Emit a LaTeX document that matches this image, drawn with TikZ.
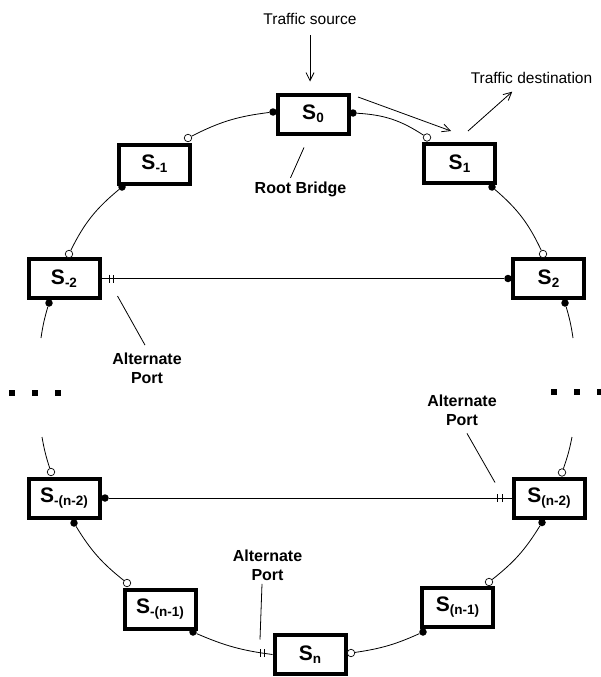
\documentclass[tikz,border=0pt]{standalone}
\usepackage{fontspec}
\setmainfont{Liberation Sans}
\usetikzlibrary{arrows.meta,calc}

\newcommand{\bsub}[1]{\raisebox{-3pt}{\fontsize{13.5}{13.5}\selectfont #1}}

\tikzset{
  bridge/.style={draw, line width=4pt, minimum width=71pt, minimum height=39pt,
    inner sep=0pt, font=\bfseries\fontsize{21}{21}\selectfont},
  fport/.style={circle, fill, inner sep=0pt, minimum size=7.5pt},
  oport/.style={circle, draw, fill=white, line width=0.7pt, inner sep=0pt, minimum size=7.5pt},
  link/.style={line width=0.8pt},
  blk/.style={font=\bfseries\fontsize{16}{19}\selectfont, align=center},
  txt/.style={font=\fontsize{15.5}{18}\selectfont},
  arr/.style={line width=0.8pt, -{Straight Barb[length=8pt,width=8pt]}},
}

\begin{document}
\begin{tikzpicture}[x=1pt,y=1pt]
\useasboundingbox (0,0) rectangle (600,-677);

% Bridges
\node[bridge] (s0)   at (313,-114)   {S\bsub{0}};
\node[bridge] (s1)   at (459.5,-163.5) {S\bsub{1}};
\node[bridge] (sm1)  at (154.5,-164) {S\bsub{-1}};
\node[bridge] (sm2)  at (64,-278.5)  {S\bsub{-2}};
\node[bridge] (s2)   at (548.5,-278.5) {S\bsub{2}};
\node[bridge] (smn2) at (64,-498)    {S\bsub{-(n-2)}};
\node[bridge] (sn2)  at (549,-498)   {S\bsub{(n-2)}};
\node[bridge] (smn1) at (160,-609)   {S\bsub{-(n-1)}};
\node[bridge] (sn1)  at (457.5,-607) {S\bsub{(n-1)}};
\node[bridge] (sn)   at (310,-654.5) {S\bsub{n}};

% Ports
\node[fport] (p0l)   at ($(s0)+(-40,2)$) {};
\node[fport] (p0r)   at ($(s0)+(40,1)$) {};
\node[oport] (p1o)   at ($(s1)+(-32.5,26)$) {};
\node[fport] (p1f)   at ($(s1)+(32.5,-23.5)$) {};
\node[oport] (pm1o)  at ($(sm1)+(33.5,26)$) {};
\node[fport] (pm1f)  at ($(sm1)+(-32.5,-23)$) {};
\node[oport] (pm2o)  at ($(sm2)+(5,24.5)$) {};
\node[fport] (pm2f)  at ($(sm2)+(-15,-24.5)$) {};
\node[oport] (p2o)   at ($(s2)+(-5.5,24.5)$) {};
\node[fport] (p2l)   at ($(s2)+(-40.5,0)$) {};
\node[fport] (p2f)   at ($(s2)+(16.5,-24.5)$) {};
\node[oport] (pmn2o) at ($(smn2)+(-13,26)$) {};
\node[fport] (pmn2r) at ($(smn2)+(41,0)$) {};
\node[fport] (pmn2f) at ($(smn2)+(10,-25)$) {};
\node[oport] (pn2o)  at ($(sn2)+(13,25.5)$) {};
\node[fport] (pn2f)  at ($(sn2)+(-7,-24.5)$) {};
\node[oport] (pmn1o) at ($(smn1)+(-33,26)$) {};
\node[fport] (pmn1f) at ($(smn1)+(33,-23)$) {};
\node[oport] (pn1o)  at ($(sn1)+(31.5,25)$) {};
\node[fport] (pn1f)  at ($(sn1)+(-34.5,-25)$) {};
\node[oport] (pno)   at ($(sn)+(41,1.5)$) {};

% Open ends of the ring
\coordinate (e1) at (41,-338);
\coordinate (e2) at (573,-338);
\coordinate (e3) at (42,-437);
\coordinate (e4) at (572,-437);

% Ring links
\draw[link] (p0l) to[bend right=10] (pm1o);
\draw[link] (p0r) to[bend left=15] (p1o);
\draw[link] (pm1f) to[bend right=12] (pm2o);
\draw[link] (p1f) to[bend left=12] (p2o);
\draw[link] (pm2f) to[bend right=4] (e1);
\draw[link] (p2f) to[bend left=4] (e2);
\draw[link] (e3) to[bend right=4] (pmn2o);
\draw[link] (e4) to[bend left=4] (pn2o);
\draw[link] (pmn2f) to[bend right=10] (pmn1o);
\draw[link] (pn2f) to[bend left=10] (pn1o);
\draw[link] (pmn1f) to[bend right=8] (sn.west);
\draw[link] (pn1f) to[bend left=8] (pno);

% Cross links
\draw[link] (sm2.east) -- (p2l);
\draw[link] (pmn2r) -- (sn2.west);

% Blocked ports
\draw[link] ($(sm2.east)+(8,4)$) -- ++(0,-8) ++(4,0) -- ++(0,8);
\draw[link] ($(sn2.west)+(-14,4)$) -- ++(0,-8) ++(4.5,0) -- ++(0,8);
\draw[link] ($(sn.west)+(-12,5.5)$) -- ++(0,-8) ++(4,0) -- ++(0,8);

% Labels
\node[txt, anchor=base] (src) at (310,-25) {Traffic source};
\node[txt, anchor=base] (dst) at (531.5,-83) {Traffic destination};
\node[blk, anchor=base] (rb) at (300.5,-193) {Root Bridge};
\node[blk] (ap1) at (147,-368) {Alternate\\Port};
\node[blk] (ap2) at (462,-410) {Alternate\\Port};
\node[blk] (ap3) at (267.5,-565) {Alternate\\Port};

% Traffic arrows
\draw[arr, shorten <=6.5pt, shorten >=11pt] (src.south) -- (src.south |- s0.north);
\draw[arr] ($(s1.north)+(8.5,11)$) -- ($(dst.south west)+(45,-5)$);
\draw[arr] ($(s0.north east)+(7.5,-4.5)$) -- ($(s1.north west)+(29,11)$);

% Leaders
\draw[link] ($(s0.south)+(-9,-12)$) -- ($(rb.north)+(-10,0)$);
\draw[link] ($(sm2.east)+(16,-17.5)$) -- ($(ap1.north)+(-2,4)$);
\draw[link] ($(ap2.south)+(5,-4.5)$) -- ($(sn2.west)+(-16.5,15.5)$);
\draw[link] ($(ap3.south)+(-5.5,0)$) -- ($(sn.west)+(-12.5,15)$);

% Ellipsis
\foreach \x in {12,35,58} \fill (\x-3,-396) rectangle ++(6,6);
\foreach \x in {554,577,600} \fill (\x-3,-395) rectangle ++(6,6);
\end{tikzpicture}
\end{document}
